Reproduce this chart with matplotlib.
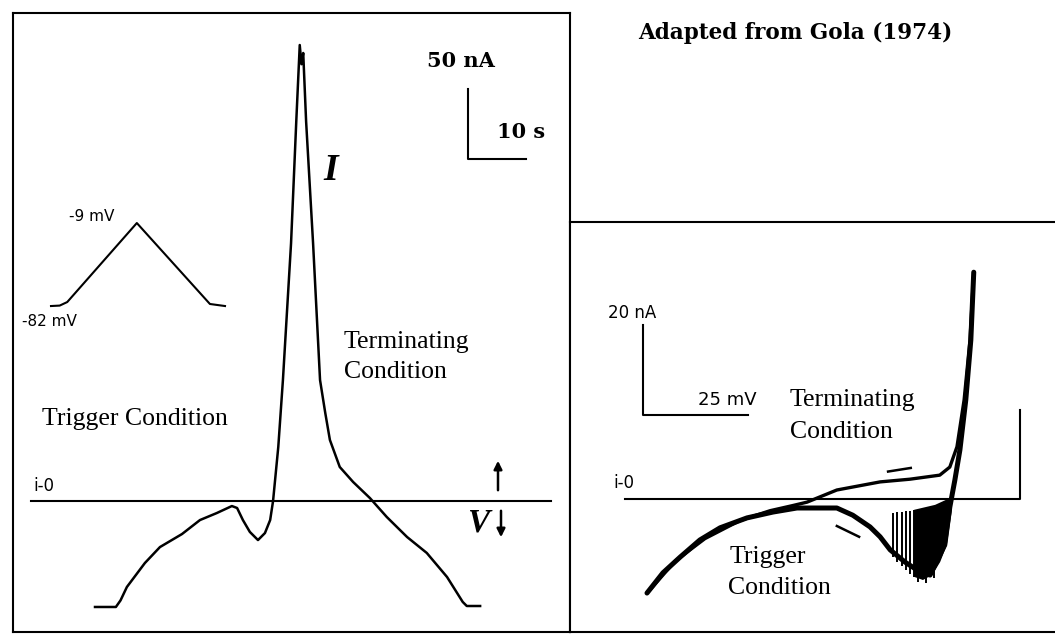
import matplotlib.pyplot as plt

W, H = 1055, 635

# left panel: current trace I(t) during the voltage ramp (t in s, I in nA)
trace_t = [0, 3.6, 4.4, 5.5, 8.6, 11.2, 15.0, 18.1, 21.0, 23.6, 24.5, 25.5, 26.7, 28.1,
           29.3, 30.2, 30.7, 31.6, 32.4, 33.8, 34.7, 35.3, 35.6, 35.9, 36.4, 37.6,
           38.8, 39.7, 40.5, 42.2, 44.5, 47.4, 50.3, 53.8, 57.2, 60.7, 63.4, 64.1, 66.4]
trace_i = [-75.7, -75.7, -71.0, -61.4, -44.3, -32.9, -23.6, -13.6, -8.6, -3.6, -5.0,
           -13.6, -22.1, -27.9, -22.9, -13.6, 0.0, 38.6, 86.4, 184.0, 271.0, 325.7,
           312.0, 320.0, 271.0, 184.0, 86.4, 62.9, 43.6, 24.3, 13.6, 2.1, -11.4,
           -25.7, -37.1, -54.3, -72.1, -75.0, -75.0]
zero_t = [-11.0, 78.6]
zero_i = [0, 0]

# inset: command voltage ramp (s, mV)
ramp_t = [0, 1.5, 2.8, 14.8, 27.4, 30.0]
ramp_v = [-82, -81.6, -78.5, -9, -80.2, -82]

# right panel: I-V curves (mV, nA)
trig_v = [-82.0, -78.2, -74.1, -69.4, -64.6, -58.2, -52.0, -46.3, -40.8, -36.8, -33.0,
          -28.9, -26.5, -24.1, -20.6, -17.0, -14.6, -11.1, -9.9, -8.7, -7.5, -6.1,
          -4.9, -4.2]
trig_i = [-20.9, -16.4, -12.9, -9.1, -6.4, -4.2, -2.9, -2.0, -2.0, -2.0, -3.6,
          -6.2, -8.4, -11.3, -14.0, -16.2, -16.9, -10.2, -1.8, 4.2, 10.9, 22.0,
          35.3, 50.4]
term_v = [-4.2, -5.1, -6.5, -8.2, -9.9, -12.3, -19.4, -26.5, -36.8, -43.9, -47.5,
          -52.7, -59.9, -68.2, -75.3, -81.3]
term_i = [50.4, 35.3, 22.0, 11.6, 7.1, 5.3, 4.4, 3.8, 2.0, -0.7, -1.5,
          -2.6, -4.8, -8.8, -13.8, -20.2]
# oscillation bundle near threshold
blob_v = [-18.4, -13.4, -9.9, -9.4, -10.6, -12.2, -14.1, -16.3, -18.4]
blob_i = [-2.4, -1.3, 0.2, -2.4, -10.2, -14.0, -16.9, -18.0, -17.3]
spike_v = [-23.4, -22.5, -21.3, -20.3, -19.4, -18.4, -17.5, -15.6, -13.7]
spike_top = [-3.1, -2.9, -2.9, -2.7, -2.7, -2.4, -2.4, -10.0, -12.0]
spike_bot = [-12.9, -14.0, -14.9, -15.8, -16.7, -17.3, -18.4, -18.7, -17.6]
step_v = [-87.2, 6.8, 6.8]
step_i = [0, 0, 19.8]


def px_axes(fig, box):
    x0, y0, x1, y1 = box
    return fig.add_axes([x0 / W, 1 - y1 / H, (x1 - x0) / W, (y1 - y0) / H])


def set_scale(ax, box, x_org, x_per, y_org, y_per):
    x0, y0, x1, y1 = box
    ax.set_xlim((x0 - x_org) / x_per, (x1 - x_org) / x_per)
    ax.set_ylim((y_org - y1) / y_per, (y_org - y0) / y_per)


def ftext(x, y, s, **kw):
    kw.setdefault('va', 'center')
    fig.text(x / W, 1 - y / H, s, **kw)


serif = 'Liberation Serif'
sans = 'DejaVu Sans'
bold_serif = 'DejaVu Serif'

fig = plt.figure(figsize=(W / 100, H / 100), dpi=100)

# ---- left panel
lbox = (13, 13, 570, 632)
axl = px_axes(fig, lbox)
set_scale(axl, lbox, 95, 5.8, 501, 1.4)
axl.plot(trace_t, trace_i, color='black', lw=1.8, solid_joinstyle='round')
axl.plot(zero_t, zero_i, color='black', lw=1.5)
# scale bar 10 s / 50 nA
axl.plot([64.3, 64.3, 74.3], [294.3, 244.3, 244.3], color='black', lw=1.5)
axl.set_xticks([])
axl.set_yticks([])
for s in axl.spines.values():
    s.set_linewidth(1.5)

# ramp inset
rbox = (40, 205, 240, 320)
axr = px_axes(fig, rbox)
set_scale(axr, rbox, 51, 5.8, 212.8, 1.137)
axr.plot(ramp_t, ramp_v, color='black', lw=1.5)
axr.axis('off')

# ---- right panel
bbox = (570, 222, 1055, 632)
axb = px_axes(fig, bbox)
set_scale(axb, bbox, 991.4, 4.2, 499, 4.5)
axb.plot(step_v, step_i, color='black', lw=1.5)
axb.plot(trig_v, trig_i, color='black', lw=3.6, solid_capstyle='round', solid_joinstyle='round')
axb.plot(term_v, term_i, color='black', lw=2.4, solid_capstyle='round', solid_joinstyle='round')
axb.fill(blob_v, blob_i, color='black', lw=0)
axb.vlines(spike_v, spike_bot, spike_top, color='black', lw=1.4)
axb.plot([-24.6, -19.2], [6.1, 6.9], color='black', lw=1.8)
axb.plot([-36.8, -31.5], [-6.0, -8.4], color='black', lw=1.8)
# scale bar 25 mV / 20 nA
axb.plot([-82.95, -82.95, -57.95], [38.67, 18.67, 18.67], color='black', lw=1.5)
axb.set_xticks([])
axb.set_yticks([])
axb.spines['right'].set_visible(False)
for s in axb.spines.values():
    s.set_linewidth(1.5)

# ---- texts
ftext(427, 61, '50 nA', family=bold_serif, weight='bold', fontsize=15)
ftext(497, 132, '10 s', family=bold_serif, weight='bold', fontsize=15)
ftext(323, 171, 'I', family=serif, style='italic', weight='bold', fontsize=27)
ftext(69, 217, '-9 mV', family=sans, fontsize=11)
ftext(22, 322, '-82 mV', family=sans, fontsize=11)
ftext(344, 342, 'Terminating', family=serif, fontsize=18.5)
ftext(344, 372, 'Condition', family=serif, fontsize=18.5)
ftext(42, 419, 'Trigger Condition', family=serif, fontsize=18.5)
ftext(33, 486, 'i-0', family=sans, fontsize=12)
ftext(467, 523, 'V', family=serif, style='italic', weight='bold', fontsize=24)
axl.annotate('', xy=(498 / W, 1 - 458 / H), xytext=(498 / W, 1 - 493 / H),
             xycoords='figure fraction', textcoords='figure fraction',
             arrowprops=dict(arrowstyle='-|>', color='black', lw=1.8, mutation_scale=12))
axl.annotate('', xy=(501 / W, 1 - 540 / H), xytext=(501 / W, 1 - 508 / H),
             xycoords='figure fraction', textcoords='figure fraction',
             arrowprops=dict(arrowstyle='-|>', color='black', lw=1.8, mutation_scale=12))

ftext(638, 33, 'Adapted from Gola (1974)', family=bold_serif, weight='bold', fontsize=15.5)
ftext(608, 313, '20 nA', family=sans, fontsize=12)
ftext(698, 400, '25 mV', family=sans, fontsize=13)
ftext(790, 400, 'Terminating', family=serif, fontsize=18.5)
ftext(790, 432, 'Condition', family=serif, fontsize=18.5)
ftext(613, 483, 'i-0', family=sans, fontsize=12)
ftext(730, 557, 'Trigger', family=serif, fontsize=18.5)
ftext(728, 588, 'Condition', family=serif, fontsize=18.5)

fig.savefig('out.png', dpi=100)
